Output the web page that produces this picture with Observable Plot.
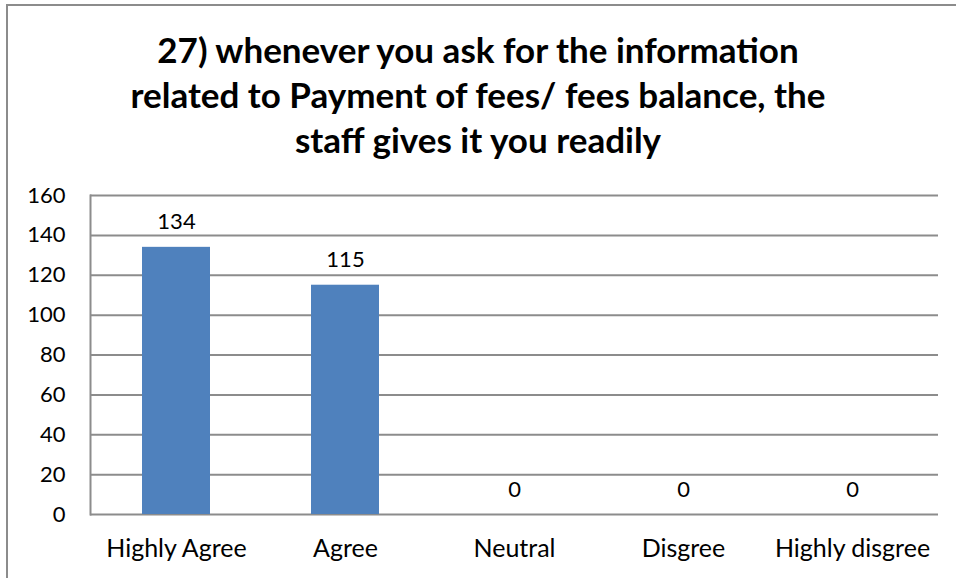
<!DOCTYPE html>
<html>
<head>
<meta charset="utf-8">
<script src="https://cdn.jsdelivr.net/npm/d3@7"></script>
<script src="https://cdn.jsdelivr.net/npm/@observablehq/plot@0.6"></script>
<style>
  html, body { margin: 0; padding: 0; background: #fff; }
  #wrap { position: relative; width: 956px; height: 578px; overflow: hidden; font-family: Lato, "Open Sans", sans-serif; }
  #frameTop { position: absolute; left: 6px; top: 4px; width: 950px; height: 0; border-top: 2px solid #8c8c8c; }
  #frameLeft { position: absolute; left: 6px; top: 4px; width: 0; height: 574px; border-left: 2px solid #8c8c8c; }
  #title { position: absolute; left: 0; top: 27px; width: 956px; text-align: center; font-weight: bold; font-size: 35px; line-height: 45px; color: #000; }
  #chart { position: absolute; left: 0; top: 180px; }
</style>
</head>
<body>
<div id="wrap">
  <div id="frameTop"></div>
  <div id="frameLeft"></div>
  <div id="title">27) whenever you ask for the information<br>related to Payment of fees/ fees balance, the<br>staff gives it you readily</div>
  <div id="chart"></div>
</div>
<script>
const categories = ["Highly Agree", "Agree", "Neutral", "Disgree", "Highly disgree"];
const values = [134, 115, 0, 0, 0];
const yTicks = [0, 20, 40, 60, 80, 100, 120, 140, 160];

const data = categories.map((c, i) => ({category: c, value: values[i]}));

const chart = Plot.plot({
  width: 956,
  height: 398,
  marginTop: 15,
  marginRight: 18,
  marginBottom: 64,
  marginLeft: 90,
  style: { fontFamily: "Lato, 'Open Sans', sans-serif", fontSize: "22px", color: "#000", background: "transparent" },
  x: { domain: categories, paddingInner: 0.6, paddingOuter: 0.3, label: null },
  y: { domain: [0, 160], label: null },
  marks: [
    Plot.ruleY(yTicks, { stroke: "#8c8c8c", strokeWidth: 2, strokeOpacity: 1 }),
    Plot.frame({ anchor: "left", stroke: "#8c8c8c", strokeWidth: 2, strokeOpacity: 1 }),
    Plot.barY(data, { x: "category", y: "value", fill: "#4f81bd" }),
    Plot.text(data, { x: "category", y: "value", text: d => String(d.value), dy: -25, fontSize: 22, fill: "#000" }),
    Plot.axisY({ ticks: yTicks, tickSize: 0, tickPadding: 25, fontSize: 22, label: null, fill: "#000" }),
    Plot.axisX({ tickSize: 0, tickPadding: 25, fontSize: 25, label: null, fill: "#000" })
  ]
});
document.getElementById("chart").appendChild(chart);
</script>
</body>
</html>
